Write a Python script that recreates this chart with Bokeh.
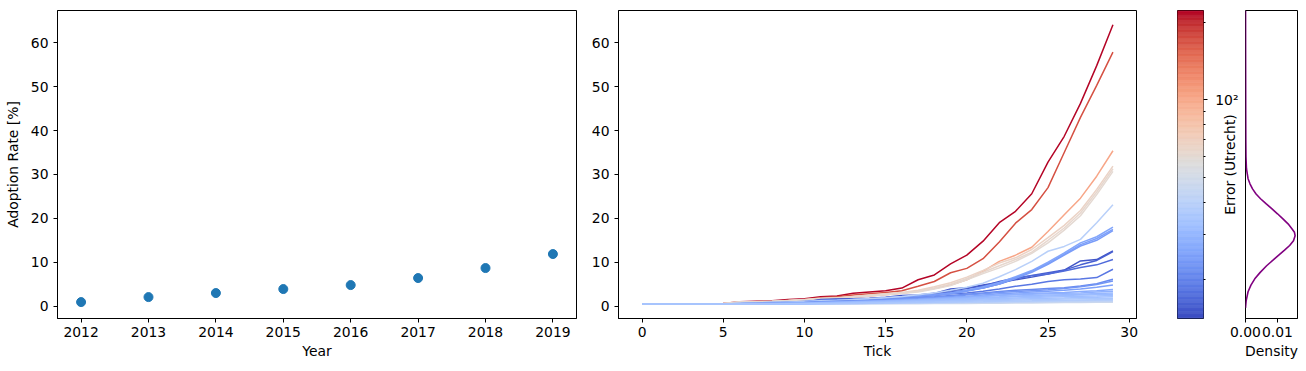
import numpy as np
from bokeh.plotting import figure
from bokeh.layouts import row
from bokeh.models import (ColumnDataSource, LogColorMapper, FixedTicker, SingleIntervalTicker,
                          PrintfTickFormatter, Range1d)
from bokeh.transform import transform
from bokeh.embed import file_html
from bokeh.resources import INLINE

FONT = "DejaVu Sans"
FS = "13.9px"

# ---------------- data: left panel ----------------
years = [2012, 2013, 2014, 2015, 2016, 2017, 2018, 2019]
adoption = [0.91, 2.05, 2.97, 3.88, 4.79, 6.39, 8.67, 11.86]

# ---------------- data: middle panel (runs) ----------------
ticks = list(range(30))
run_r1 = [0.45,0.45,0.45,0.45,0.45,0.6,1.0,1.1,1.2,1.5,1.7,2.1,2.3,2.9,3.2,3.5,4.1,6.0,7.1,9.6,11.6,14.8,19.0,21.6,25.6,32.8,38.7,46.2,54.8,64.1]
run_r2 = [0.45,0.45,0.45,0.45,0.45,0.6,0.9,1.0,1.1,1.3,1.5,1.9,2.1,2.5,2.8,3.1,3.5,4.5,5.6,7.6,8.6,10.8,14.6,18.9,22.0,27.0,35.0,43.0,50.3,57.9]
run_s = [0.45,0.45,0.45,0.45,0.45,0.6,0.9,1.0,1.0,1.2,1.4,1.7,1.8,2.0,2.3,2.6,2.9,3.4,4.0,4.8,6.0,7.9,10.2,11.6,13.4,17.0,20.8,24.6,29.6,35.4]
run_ba = [0.45,0.45,0.45,0.45,0.45,0.6,1.0,1.0,1.1,1.3,1.5,1.8,1.9,2.2,2.5,2.8,3.1,3.6,4.4,5.3,6.6,8.1,9.8,11.0,12.9,15.6,18.4,21.8,26.6,31.9]
run_bb = [0.45,0.45,0.45,0.45,0.45,0.6,0.95,1.0,1.1,1.25,1.45,1.7,1.85,2.1,2.4,2.7,3.0,3.4,4.1,5.0,6.3,7.7,9.2,10.6,12.3,15.0,17.8,21.2,26.0,31.3]
run_bc = [0.45,0.45,0.45,0.45,0.45,0.55,0.9,0.95,1.05,1.2,1.4,1.65,1.8,2.0,2.3,2.6,2.9,3.2,3.9,4.7,6.0,7.4,8.7,10.2,12.0,14.4,17.3,20.6,25.4,30.7]
run_d1 = [0.45,0.45,0.45,0.45,0.45,0.5,0.55,0.6,0.7,0.8,0.9,1.5,1.6,1.7,1.8,2.0,2.4,2.5,2.9,3.9,4.2,4.8,5.4,6.0,6.6,7.3,8.2,10.3,10.6,12.6]
run_d2 = [0.45,0.45,0.45,0.45,0.45,0.5,0.55,0.6,0.7,0.8,0.9,1.4,1.5,1.6,1.7,1.9,2.2,2.4,2.7,3.5,4.0,4.6,5.6,6.4,7.0,7.6,8.2,9.4,10.4,12.4]
run_d3 = [0.45,0.45,0.45,0.45,0.45,0.5,0.55,0.6,0.7,0.8,0.9,1.3,1.4,1.5,1.6,1.8,2.1,2.3,2.6,3.2,3.6,4.1,5.0,6.2,6.9,7.3,8.0,8.8,9.4,10.6]
run_d4 = [0.45,0.45,0.45,0.45,0.45,0.5,0.55,0.6,0.65,0.75,0.85,1.2,1.3,1.4,1.5,1.7,1.9,2.1,2.4,2.8,3.0,3.4,3.9,4.5,5.0,5.6,6.0,6.2,6.5,8.4]
run_m1 = [0.45,0.45,0.45,0.45,0.45,0.5,0.6,0.7,0.8,0.9,1.1,1.3,1.4,1.5,1.7,1.9,2.1,2.3,2.6,3.0,3.6,4.4,5.4,6.7,8.1,10.0,12.1,14.4,15.8,18.0]
run_m2 = [0.45,0.45,0.45,0.45,0.45,0.5,0.6,0.7,0.8,0.9,1.0,1.2,1.3,1.5,1.6,1.8,2.0,2.3,2.5,2.9,3.5,4.2,5.2,6.5,7.9,9.7,11.8,14.0,15.4,17.5]
run_m3 = [0.45,0.45,0.45,0.45,0.45,0.5,0.55,0.65,0.75,0.85,1.0,1.2,1.3,1.4,1.6,1.8,2.0,2.2,2.5,2.8,3.4,4.1,5.0,6.3,7.7,9.5,11.6,13.7,15.0,17.2]
run_lb = [0.45,0.45,0.45,0.45,0.45,0.5,0.6,0.7,0.8,0.9,1.0,1.2,1.3,1.5,1.7,1.9,2.2,2.6,3.0,3.6,4.3,5.2,6.7,8.3,10.2,12.5,13.6,15.2,19.0,23.1]
run_l14 = [0.45,0.45,0.45,0.45,0.45,0.45,0.45,0.45,0.5,0.5,0.5,0.5,0.5,0.5,0.55,0.55,0.55,0.55,0.6,0.6,0.6,0.65,0.65,0.7,0.7,0.75,0.8,0.8,0.85,0.9]
run_l13 = [0.45,0.45,0.45,0.45,0.45,0.45,0.45,0.5,0.5,0.5,0.5,0.5,0.55,0.55,0.6,0.6,0.65,0.65,0.7,0.7,0.75,0.8,0.8,0.85,0.9,0.95,1.0,1.0,1.05,1.1]
run_l12 = [0.45,0.45,0.45,0.45,0.45,0.45,0.5,0.5,0.5,0.5,0.5,0.55,0.55,0.6,0.6,0.65,0.7,0.7,0.75,0.8,0.85,0.9,0.95,1.0,1.05,1.1,1.15,1.2,1.25,1.3]
run_l11 = [0.45,0.45,0.45,0.45,0.45,0.45,0.5,0.5,0.5,0.5,0.55,0.55,0.6,0.6,0.65,0.7,0.75,0.8,0.85,0.9,0.95,1.0,1.1,1.15,1.2,1.3,1.35,1.4,1.45,1.5]
run_l1 = [0.45,0.45,0.45,0.45,0.45,0.5,0.55,0.6,0.65,0.7,0.8,1.0,1.1,1.2,1.3,1.5,1.7,1.9,2.1,2.4,2.7,3.0,3.3,3.6,3.8,4.0,4.2,4.6,5.1,6.1]
run_l2 = [0.45,0.45,0.45,0.45,0.45,0.5,0.55,0.6,0.65,0.7,0.8,0.95,1.05,1.15,1.25,1.4,1.6,1.8,2.0,2.2,2.5,2.8,3.1,3.3,3.5,3.7,4.0,4.4,4.9,5.7]
run_l3 = [0.45,0.45,0.45,0.45,0.45,0.5,0.5,0.55,0.6,0.65,0.7,0.85,0.95,1.05,1.15,1.3,1.45,1.6,1.8,2.0,2.2,2.5,2.8,3.0,3.2,3.4,3.6,3.9,4.3,4.8]
run_l4 = [0.45,0.45,0.45,0.45,0.45,0.5,0.5,0.55,0.6,0.65,0.7,0.8,0.9,1.0,1.1,1.2,1.35,1.5,1.7,1.9,2.1,2.3,2.5,2.7,2.9,3.0,3.1,3.3,3.5,3.8]
run_l5 = [0.45,0.45,0.45,0.45,0.45,0.5,0.5,0.55,0.6,0.6,0.65,0.75,0.85,0.95,1.05,1.15,1.3,1.45,1.6,1.8,2.0,2.2,2.4,2.6,2.7,2.8,2.9,3.0,3.2,3.4]
run_l6 = [0.45,0.45,0.45,0.45,0.45,0.5,0.5,0.55,0.55,0.6,0.65,0.7,0.8,0.9,1.0,1.1,1.2,1.35,1.5,1.65,1.8,1.95,2.1,2.3,2.4,2.5,2.6,2.7,2.85,3.0]
run_l7 = [0.45,0.45,0.45,0.45,0.45,0.5,0.5,0.5,0.55,0.6,0.6,0.7,0.75,0.85,0.95,1.05,1.15,1.25,1.4,1.5,1.65,1.8,1.95,2.1,2.2,2.3,2.4,2.5,2.6,2.7]
run_l8 = [0.45,0.45,0.45,0.45,0.45,0.5,0.5,0.5,0.55,0.55,0.6,0.65,0.7,0.8,0.85,0.95,1.05,1.15,1.25,1.35,1.5,1.6,1.75,1.85,1.95,2.05,2.15,2.25,2.3,2.4]
run_l9 = [0.45,0.45,0.45,0.45,0.45,0.5,0.5,0.5,0.5,0.55,0.55,0.6,0.65,0.7,0.8,0.85,0.95,1.0,1.1,1.2,1.3,1.4,1.5,1.6,1.7,1.8,1.85,1.95,2.0,2.1]
run_l10 = [0.45,0.45,0.45,0.45,0.45,0.45,0.5,0.5,0.5,0.55,0.55,0.6,0.6,0.65,0.7,0.75,0.8,0.9,0.95,1.05,1.1,1.2,1.3,1.4,1.45,1.5,1.6,1.65,1.7,1.8]

# drawing order (first drawn = bottom)
runs = [run_r1, run_r2, run_s, run_ba, run_bb, run_bc, run_d1, run_d2, run_d3, run_d4,
        run_m1, run_m2, run_m3, run_lb, run_l14, run_l13, run_l12, run_l11, run_l1, run_l2,
        run_l3, run_l4, run_l5, run_l6, run_l7, run_l8, run_l9, run_l10]
run_errors = [222, 170, 102, 66, 63, 61, 15, 16, 17.2, 18.5,
              26, 25, 24, 40, 48, 44, 40, 37, 21, 23,
              25, 27, 28.5, 30, 31, 32, 33, 35]

# ---------------- data: error density ----------------
dens_err = [15.5, 16.5, 17.9, 19.0, 20.1, 21.3, 22.6, 23.7, 24.8, 26.0, 27.1, 28.3, 29.6, 30.5,
            31.5, 32.9, 34.4, 36.0, 37.7, 39.4, 41.2, 43.0, 45.0, 47.1, 49.3, 53.9, 60, 70, 90,
            120, 160, 222]
dens_val = [0.0000, 0.0002, 0.0008, 0.0017, 0.0029, 0.0046, 0.0066, 0.0085, 0.0103, 0.0122,
            0.0138, 0.0150, 0.0155, 0.0153, 0.0145, 0.0133, 0.0117, 0.0100, 0.0082, 0.0064,
            0.0047, 0.0033, 0.0022, 0.0014, 0.0008, 0.0003, 0.00015, 0.0001, 0.00007, 0.00005,
            0.00003, 0.00002]

ERR_LOW, ERR_HIGH = 14.09, 222.4

# ---------------- coolwarm colormap control points ----------------
cw_r = [0.2298057,0.26623388,0.30386891,0.342804478,0.38301334,0.424369608,0.46666708,0.509635204,
        0.552953156,0.596262162,0.639176211,0.681291281,0.722193294,0.761464949,0.798691636,
        0.833466556,0.865395197,0.897787179,0.924127593,0.944468518,0.958852946,0.96732803,
        0.969954137,0.966811177,0.958003065,0.943660866,0.923944917,0.89904617,0.869186849,
        0.834620542,0.795631745,0.752534934,0.705673158]
cw_g = [0.298717966,0.353094838,0.406535296,0.458757618,0.50941904,0.558148092,0.604562568,
        0.648280772,0.688929332,0.726149107,0.759599947,0.788964712,0.813952739,0.834302879,
        0.849786142,0.860207984,0.86541021,0.848937047,0.827384882,0.800927443,0.769767752,
        0.734132809,0.694266682,0.650421156,0.602842431,0.551750968,0.49730856,0.439559467,
        0.378313092,0.312874446,0.24128379,0.157246067,0.01555616]
cw_b = [0.753683153,0.801466763,0.84495867,0.883725899,0.917387822,0.945619588,0.968154911,
        0.98478814,0.995375608,0.999836203,0.998151185,0.990363227,0.976574709,0.956945269,
        0.931688648,0.901068838,0.865395561,0.820880546,0.774508472,0.726736146,0.678007945,
        0.628751763,0.579375448,0.530263762,0.481775914,0.434243684,0.387970225,0.343229596,
        0.300267182,0.259301199,0.220525627,0.184115123,0.150232812]
cw_pos = np.linspace(0, 1, len(cw_r))
_s = np.linspace(0, 1, 256)
palette = ["#%02x%02x%02x" % (int(round(r * 255)), int(round(g * 255)), int(round(b * 255)))
           for r, g, b in zip(np.interp(_s, cw_pos, cw_r), np.interp(_s, cw_pos, cw_g),
                              np.interp(_s, cw_pos, cw_b))]
mapper = LogColorMapper(palette=palette, low=ERR_LOW, high=ERR_HIGH)


def style(p):
    p.outline_line_color = "black"
    p.outline_line_width = 1
    p.xgrid.grid_line_color = None
    p.ygrid.grid_line_color = None
    p.background_fill_color = "white"
    p.border_fill_color = "white"
    for ax in p.axis:
        ax.major_label_text_font = FONT
        ax.major_label_text_font_size = FS
        ax.major_label_text_color = "black"
        ax.axis_label_text_font = FONT
        ax.axis_label_text_font_size = FS
        ax.axis_label_text_font_style = "normal"
        ax.axis_label_text_color = "black"
        ax.major_tick_in = 0
        ax.major_tick_out = 4
        ax.minor_tick_in = 0
        ax.minor_tick_out = 0
        ax.axis_line_color = "black"
        ax.major_tick_line_color = "black"
        ax.minor_tick_line_color = "black"
        ax.major_label_standoff = 4
        ax.axis_label_standoff = 3


FH = 308
common = dict(frame_height=FH, min_border_top=10, min_border_bottom=45,
              output_backend="svg", toolbar_location=None)

yr = Range1d(-2.83, 67.37)

# ---- left: scatter ----
p1 = figure(frame_width=519, min_border_left=57, min_border_right=10,
            x_range=Range1d(2011.65, 2019.35), y_range=yr, **common)
p1.scatter(years, adoption, size=9, color="#1f77b4")
style(p1)
p1.xaxis.ticker = FixedTicker(ticks=years)
p1.yaxis.ticker = SingleIntervalTicker(interval=10)
p1.xaxis.axis_label = "Year"
p1.yaxis.axis_label = "Adoption Rate [%]"
p1.yaxis.major_label_standoff = 5
p1.yaxis.axis_label_standoff = 7

# ---- middle: runs ----
p2 = figure(frame_width=518, min_border_left=32, min_border_right=41,
            x_range=Range1d(-1.45, 30.45), y_range=yr, **common)
src = ColumnDataSource(dict(xs=[ticks[:len(r)] for r in runs], ys=runs, err=run_errors))
p2.multi_line("xs", "ys", source=src, line_color=transform("err", mapper), line_width=1.5)
style(p2)
p2.xaxis.ticker = SingleIntervalTicker(interval=5)
p2.yaxis.ticker = SingleIntervalTicker(interval=10)
p2.yaxis.major_label_standoff = 5
p2.xaxis.axis_label = "Tick"

# ---- colorbar ----
edges = np.geomspace(ERR_LOW, ERR_HIGH, 257)
cb_src = ColumnDataSource(dict(bottom=edges[:-1], top=edges[1:],
                               mid=np.sqrt(edges[:-1] * edges[1:])))
p3 = figure(frame_width=26, min_border_left=0, min_border_right=6,
            x_range=Range1d(0, 1), y_range=Range1d(ERR_LOW, ERR_HIGH), y_axis_type="log",
            y_axis_location="right", x_axis_location=None, **common)
p3.quad(left=0, right=1, bottom="bottom", top="top", source=cb_src,
        fill_color=transform("mid", mapper), line_color=transform("mid", mapper), line_width=0.6)
style(p3)
p3.yaxis.ticker = FixedTicker(ticks=[100], minor_ticks=[20, 30, 40, 50, 60, 70, 80, 90, 200])
p3.yaxis.major_label_overrides = {100: ""}
p3.yaxis.major_label_standoff = 0
p3.yaxis.minor_tick_out = 2
p3.yaxis.axis_line_color = None

# ---- density ----
p4 = figure(frame_width=52, min_border_left=36, min_border_right=1,
            x_range=Range1d(0, 0.01625), y_range=Range1d(ERR_LOW, ERR_HIGH), y_axis_type="log",
            **common)
p4.line(dens_val, dens_err, color="#800080", line_width=1.6)
style(p4)
p4.xaxis.ticker = FixedTicker(ticks=[0, 0.01])
p4.xaxis.formatter = PrintfTickFormatter(format="%.2f")
p4.xaxis.axis_label = "Density"
# left axis of the density panel carries the colorbar's tick label and title
p4.yaxis.ticker = FixedTicker(ticks=[100])
p4.yaxis.major_label_overrides = {100: "10²"}
p4.yaxis.major_tick_out = 0
p4.yaxis.axis_line_color = None
p4.yaxis.major_label_standoff = 7
p4.yaxis.axis_label = "Error (Utrecht)"
p4.yaxis.axis_label_standoff = -26

layout = row(p1, p2, p3, p4)
open("out.html", "w").write(file_html(layout, INLINE))
